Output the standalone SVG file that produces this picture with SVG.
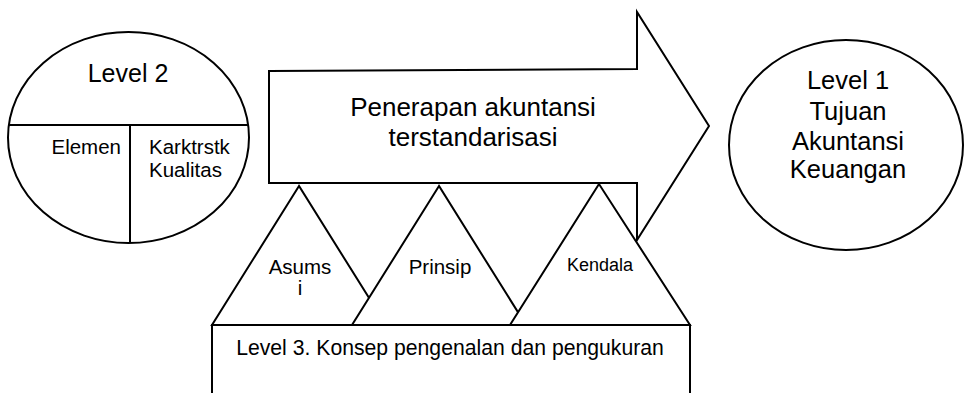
<svg xmlns="http://www.w3.org/2000/svg" width="966" height="393" viewBox="0 0 966 393">
<style>
.s{fill:#fff;stroke:#000;stroke-width:2;stroke-linejoin:miter}
.l{fill:none;stroke:#000;stroke-width:2}
text{font-family:"Liberation Sans",Arial,sans-serif;fill:#000}
.c{text-anchor:middle}
</style>
<rect width="966" height="393" fill="#fff"/>
<g id="level2">
<ellipse class="s" cx="128.5" cy="137.5" rx="120.5" ry="105.5"/>
<line class="l" x1="9" y1="125" x2="248" y2="125"/>
<line class="l" x1="130" y1="125" x2="130" y2="242"/>
<text class="c" x="128" y="82" font-size="25">Level 2</text>
<text x="121" y="154" font-size="20.5" text-anchor="end">Elemen</text>
<text x="149" y="154" font-size="20.5">Karktrstk</text>
<text x="149" y="177" font-size="20.5">Kualitas</text>
</g>
<g id="arrow">
<path class="s" d="M269,71 L637,69 L637,12 L709,126 L637,240 L637,183 L269,183 Z"/>
<text class="c" x="473" y="116" font-size="26">Penerapan akuntansi</text>
<text class="c" x="473" y="146" font-size="26">terstandarisasi</text>
</g>
<g id="level1">
<ellipse class="s" cx="846" cy="145" rx="117" ry="105"/>
<text class="c" x="848" y="89" font-size="25.5">Level 1</text>
<text class="c" x="848" y="120" font-size="25.5">Tujuan</text>
<text class="c" x="848" y="150" font-size="25.5">Akuntansi</text>
<text class="c" x="848" y="178" font-size="25.5">Keuangan</text>
</g>
<g id="level3">
<path class="s" d="M212,400 L212,325 L690,325 L690,400"/>
<text class="c" x="450" y="355" font-size="21.2">Level 3. Konsep pengenalan dan pengukuran</text>
</g>
<g id="asumsi">
<polygon class="s" points="299,186 212,325 386,325"/>
<text class="c" x="300" y="274" font-size="20.5">Asums</text>
<text class="c" x="300" y="295" font-size="20.5">i</text>
</g>
<g id="prinsip">
<polygon class="s" points="439,186 352,325 526,325"/>
<text class="c" x="440" y="274" font-size="20.5">Prinsip</text>
</g>
<g id="kendala">
<polygon class="s" points="599,184 510,325 690,325"/>
<text class="c" x="600" y="271" font-size="18">Kendala</text>
</g>
<g id="connectors"></g>
</svg>
